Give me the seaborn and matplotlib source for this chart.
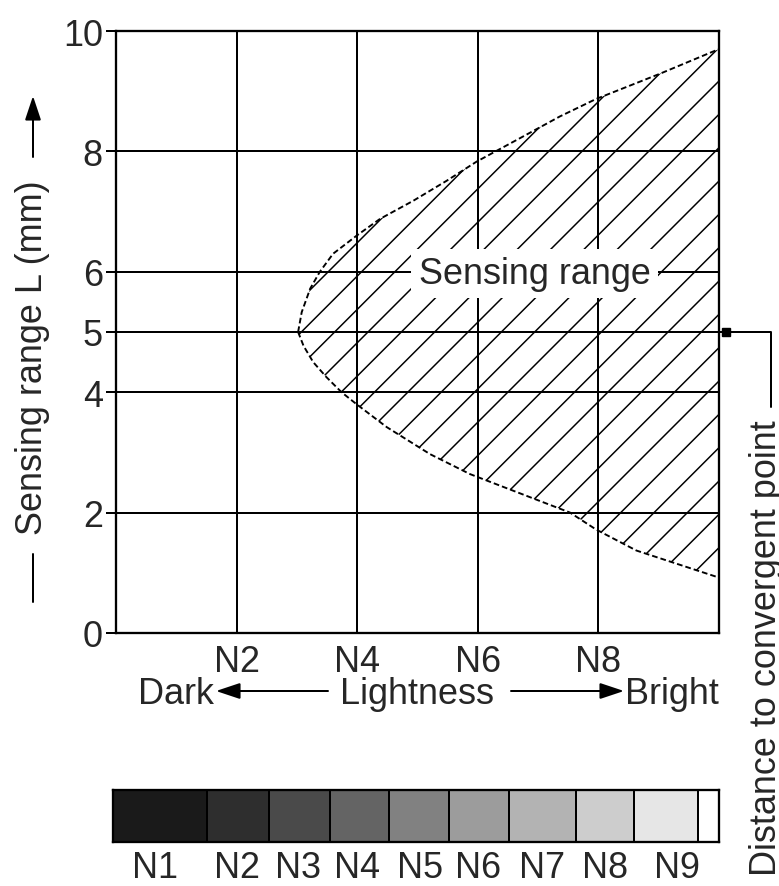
import matplotlib
matplotlib.use("Agg")
import matplotlib.pyplot as plt
from matplotlib.patches import FancyArrowPatch
from matplotlib.lines import Line2D
import seaborn as sns

# Boundary of the sensing range (lightness value, sensing range L in mm)
upper_x = [3.02, 3.08, 3.22, 3.38, 3.60, 3.99, 4.38, 4.93, 5.48, 5.98, 6.70, 7.36, 7.96, 9.02, 10.0]
upper_y = [5.00, 5.33, 5.72, 6.00, 6.30, 6.60, 6.88, 7.18, 7.51, 7.83, 8.22, 8.58, 8.87, 9.29, 9.70]
lower_x = [3.02, 3.11, 3.27, 3.49, 3.74, 3.99, 4.49, 5.21, 5.87, 6.70, 7.53, 7.96, 8.63, 10.0]
lower_y = [5.00, 4.77, 4.50, 4.25, 4.00, 3.80, 3.42, 2.97, 2.64, 2.32, 2.00, 1.72, 1.37, 0.92]

y_ticks = [0, 2, 4, 5, 6, 8, 10]
x_ticks = [2, 4, 6, 8]
x_tick_labels = ["N2", "N4", "N6", "N8"]

# Lightness scale strip
shade_edges = [0, 1.56, 2.57, 3.58, 4.56, 5.55, 6.53, 7.63, 8.59, 9.65, 10.0]
shade_grays = ["#1a1a1a", "#2e2e2e", "#4a4a4a", "#646464", "#818181",
               "#9c9c9c", "#b3b3b3", "#cdcdcd", "#e6e6e6", "#ffffff"]
shade_names = ["N1", "N2", "N3", "N4", "N5", "N6", "N7", "N8", "N9"]
shade_label_pos = [0.70, 2.04, 3.05, 4.02, 5.07, 6.02, 7.07, 8.12, 9.30]

W, H, DPI = 779, 887, 100
P = 72 / DPI  # points per pixel
FS = 36 * P

sns.set_theme(style="white")
plt.rcParams["font.family"] = ["Liberation Sans", "DejaVu Sans"]
plt.rcParams["hatch.linewidth"] = 1.5 * P
plt.rcParams["hatch.color"] = "black"


def fx(px):
    return px / W


def fy(py):
    return 1 - py / H


fig = plt.figure(figsize=(W / DPI, H / DPI), dpi=DPI)
ax = fig.add_axes([fx(116), fy(634), (719 - 116) / W, (634 - 32) / H])

# hatched sensing area
poly_x = upper_x[::-1] + lower_x[1:]
poly_y = upper_y[::-1] + lower_y[1:]
ax.fill(poly_x, poly_y, facecolor="none", edgecolor="black", hatch="/", linewidth=0, zorder=2)
sns.lineplot(x=upper_x, y=upper_y, ax=ax, color="black", lw=1.9 * P, linestyle=(0, (3, 1.6)), zorder=2)
sns.lineplot(x=lower_x, y=lower_y, ax=ax, color="black", lw=1.9 * P, linestyle=(0, (3, 1.6)), zorder=2)

ax.set_xlim(0, 10)
ax.set_ylim(0, 10)
ax.set_yticks(y_ticks)
ax.set_yticklabels([str(v) for v in y_ticks], fontsize=FS)
ax.set_xticks(x_ticks)
ax.set_xticklabels(x_tick_labels, fontsize=FS)
ax.tick_params(axis="y", length=10 * P, width=2 * P, pad=3 * P, color="black", left=True)
ax.tick_params(axis="x", length=0, pad=11 * P)
ax.grid(True, color="black", lw=2 * P)
ax.set_axisbelow(False)
for s in ax.spines.values():
    s.set_color("black")
    s.set_linewidth(2.3 * P)

ax.text(6.94, 5.97, "Sensing range", fontsize=FS, ha="center", va="center", zorder=5,
        bbox=dict(facecolor="white", edgecolor="none", boxstyle="square,pad=0.2"))

# Distance to convergent point connector
ax.plot([10, 10.86, 10.86], [5, 5, 3.75], color="black", lw=2 * P, clip_on=False, zorder=6)
ax.plot([10.12], [5], marker="s", ms=8 * P, color="black", clip_on=False, zorder=6)
fig.text(fx(767), fy(648), "Distance to convergent point", rotation=90,
         ha="center", va="center", fontsize=FS)

arrow_style = "-|>,head_length=1.2,head_width=0.4"
arrow_scale = 17 * P

# y-axis label with arrow
fig.text(fx(33), fy(358), "Sensing range L (mm)", rotation=90, ha="center", va="center", fontsize=FS)
fig.add_artist(Line2D([fx(33), fx(33)], [fy(555), fy(603)], color="black", lw=2 * P,
                      transform=fig.transFigure))
fig.add_artist(FancyArrowPatch((fx(33), fy(158)), (fx(33), fy(97)), transform=fig.transFigure,
                               arrowstyle=arrow_style, mutation_scale=arrow_scale,
                               color="black", lw=2 * P, shrinkA=0, shrinkB=0))

# Lightness row
row_y = 695
fig.text(fx(138), fy(row_y), "Dark", ha="left", va="center", fontsize=FS)
fig.text(fx(417), fy(row_y), "Lightness", ha="center", va="center", fontsize=FS)
fig.text(fx(719), fy(row_y), "Bright", ha="right", va="center", fontsize=FS)
fig.add_artist(FancyArrowPatch((fx(328), fy(row_y - 3)), (fx(216), fy(row_y - 3)), transform=fig.transFigure,
                               arrowstyle=arrow_style, mutation_scale=arrow_scale,
                               color="black", lw=2 * P, shrinkA=0, shrinkB=0))
fig.add_artist(FancyArrowPatch((fx(511), fy(row_y - 3)), (fx(624), fy(row_y - 3)), transform=fig.transFigure,
                               arrowstyle=arrow_style, mutation_scale=arrow_scale,
                               color="black", lw=2 * P, shrinkA=0, shrinkB=0))

# Gray scale strip
bx = fig.add_axes([fx(112.7), fy(843), 606.6 / W, 52 / H])
lefts = shade_edges[:-1]
widths = [b - a for a, b in zip(shade_edges[:-1], shade_edges[1:])]
bx.bar(lefts, [1] * len(lefts), width=widths, align="edge", color=shade_grays,
       edgecolor="black", linewidth=2 * P)
bx.set_xlim(0, 10)
bx.set_ylim(0, 1)
bx.set_yticks([])
bx.set_xticks(shade_label_pos)
bx.set_xticklabels(shade_names, fontsize=FS)
bx.tick_params(axis="x", length=0, pad=8 * P)
for s in bx.spines.values():
    s.set_color("black")
    s.set_linewidth(2.3 * P)

fig.savefig("out.png", dpi=DPI)
